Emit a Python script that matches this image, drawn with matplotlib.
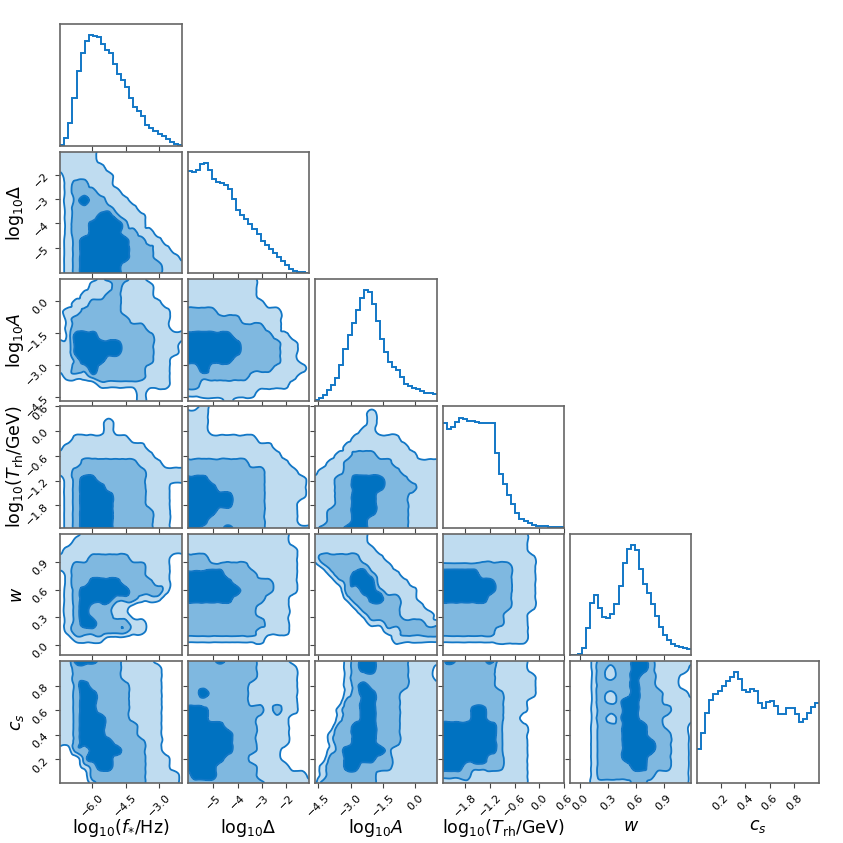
import numpy as np
import matplotlib
matplotlib.use('Agg')
import matplotlib.pyplot as plt
import matplotlib.tri as mtri

# parameter names, plot ranges and ticks
labels = [r'$\mathrm{log}_{10}(f_{*}/\mathrm{Hz})$', r'$\mathrm{log}_{10}\Delta$', r'$\mathrm{log}_{10}A$',
          r'$\mathrm{log}_{10}(T_{\mathrm{rh}}/\mathrm{GeV})$', r'$w$', r'$c_s$']
ranges = [(-7.4, -2.0), (-6.05, -1.05), (-4.65, 1.0), (-2.35, 0.6), (-0.11, 1.2), (0.01, 1.0)]
ticks = [[-6.0, -4.5, -3.0], [-5, -4, -3, -2], [-4.5, -3.0, -1.5, 0.0],
         [-1.8, -1.2, -0.6, 0.0, 0.6], [0.0, 0.3, 0.6, 0.9], [0.2, 0.4, 0.6, 0.8]]
tick_labels = [['−6.0', '−4.5', '−3.0'], ['−5', '−4', '−3', '−2'],
               ['−4.5', '−3.0', '−1.5', '0.0'], ['−1.8', '−1.2', '−0.6', '0.0', '0.6'],
               ['0.0', '0.3', '0.6', '0.9'], ['0.2', '0.4', '0.6', '0.8']]

# 1D marginal histograms, 30 bins over the plot range (relative counts)
hist_fstar = [3, 22, 67, 143, 221, 275, 312, 328, 326, 322, 303, 285, 275, 243, 213,
              196, 175, 143, 116, 103, 88, 63, 53, 43, 35, 28, 20, 10, 5, 2]
hist_delta = [300, 297, 304, 322, 325, 305, 277, 267, 264, 260, 247, 217, 187, 172, 160,
              144, 130, 114, 96, 82, 70, 60, 47, 36, 24, 12, 7, 5, 3, 1]
hist_A = [3, 8, 18, 31, 45, 68, 106, 153, 196, 231, 270, 305, 328, 323, 286,
          236, 183, 145, 116, 101, 92, 70, 50, 44, 38, 33, 28, 24, 22, 21]
hist_trh = [315, 297, 304, 320, 332, 329, 322, 323, 320, 317, 315, 315, 315, 225, 162,
            132, 100, 72, 44, 27, 20, 14, 9, 5, 5, 5, 4, 4, 3, 2]
hist_w = [1, 1, 3, 21, 81, 158, 181, 143, 115, 111, 125, 155, 208, 275, 317,
          330, 315, 258, 213, 185, 153, 118, 85, 61, 45, 33, 27, 24, 22, 18]
hist_cs = [100, 150, 210, 248, 266, 275, 290, 303, 317, 330, 309, 277, 270, 280, 275,
           237, 222, 242, 245, 228, 207, 207, 223, 223, 205, 182, 192, 210, 227, 237]
hists = [hist_fstar, hist_delta, hist_A, hist_trh, hist_w, hist_cs]

# 2D credible regions read on a 16x16 grid (top row first): 0 out, 1 outer, 2 middle, 3 inner
g_delta_fstar = [
    "1111100000000000", "1111100000000000", "1111110000000000", "0111111000000000",
    "0122111000000000", "0122211100000000", "0123221110000000", "0122222111000000",
    "0122233211100000", "0122333321100000", "0122333322110000", "0123333332211000",
    "0123333332221100", "0123333332221110", "0123333322222111", "0123333322222111"]
g_A_fstar = [
    "0000012221100000", "0000111211110000", "0001112211110000", "0011222211111000",
    "0112222211111100", "0122222221111100", "0122222222211100", "0133322222221111",
    "1133333322221110", "1133333322221110", "1123332222221100", "1122322222211100",
    "0111222222211100", "0000011111111100", "0000000000100000", "0000000000100000"]
g_A_delta = [
    "1111111110000000", "1111111110000000", "1111111110000000", "1111111111000000",
    "2222111111110000", "2222222111110000", "2222222222110000", "3333332222211000",
    "3333333222221100", "3333333222221100", "3333332222221100", "2232222222211110",
    "2222222211111100", "2211111111111000", "1111111110000000", "0000010000000000"]
g_trh_fstar = [
    "0000000000000000", "0000000000000000", "0000001000000000", "0000001000000000",
    "0011111110000000", "0111111111100000", "1111111111110000", "1112222222111000",
    "1122222222211111", "0123322222211111", "0123332222211100", "0123333222211100",
    "0123333222211100", "0123333222221100", "0123333222221100", "0123333222221100"]
g_trh_delta = [
    "0010000000000000", "1110000000000000", "1110000000000000", "1110000000000000",
    "1111111110000000", "1111111111100000", "1111111111110000", "2222222211111000",
    "2222222222111100", "3332222222111110", "3333222222111110", "3333332222111110",
    "3333332222111100", "3333222222111100", "3332222222111100", "3322232222111111"]
g_trh_A = [
    "0000000000000000", "0000000100000000", "0000000100000000", "0000001100000000",
    "0000011111100000", "0000111111110000", "0001122211111000", "0011222222111111",
    "0111222222211111", "1112233332221111", "1112233332222111", "1112233322221111",
    "1112233322221111", "1122233322221111", "1122233222221111", "1222333222221111"]
g_w_fstar = [
    "0001111111111111", "0011111111111111", "0111111111111111", "1111222221111100",
    "1122222222211100", "0122222222211100", "0122333322221100", "0123333332222100",
    "0123333222111000", "0123222110000000", "0123222110000000", "0123322221100000",
    "0122222221100000", "0011110000000000", "0000000000000000", "0000000000000000"]
g_w_delta = [
    "1111111111111000", "1111111111111000", "1111111111111100", "2221111111111100",
    "2222222211111100", "3333322221111100", "3333332222211100", "3333333222211100",
    "3333332222111000", "2222222221111000", "2222222221111000", "2222222222111000",
    "2222222221111000", "1111111111000000", "0000000000000000", "0000000000000000"]
g_w_A = [
    "1111111000000000", "1111111000000000", "1111111100000000", "1222221110000000",
    "0122222111000000", "0012233211100000", "0001233311110000", "0000223321111000",
    "0000122332211000", "0000012222211100", "0000001222211110", "0000000112222211",
    "0000000001122222", "0000000000111111", "0000000000000000", "0000000000000000"]
g_w_trh = [
    "1111111111100000", "1111111111100000", "1111111111100000", "1111111111110000",
    "2222222221110000", "3333322221110000", "3333333221110000", "3333333221110000",
    "3333332221110000", "2222222221110000", "2222222211100000", "2222222211100000",
    "2222222111100000", "1111111111100000", "0000000000000000", "0000000000000000"]
g_cs_fstar = [
    "1133322211110000", "1122222211111000", "1122222211111000", "1123222221111000",
    "1123322221111000", "1123322221111000", "1123322221111000", "1123332221111000",
    "1123332222111000", "1123332222111000", "1123333222211000", "0022333322211000",
    "0002333222211100", "0001233222211100", "0000222222211110", "0000122222211110"]
g_cs_delta = [
    "2222322221111000", "2222222221111100", "2222222221111100", "2222222211111100",
    "2232222211111100", "2222222211111100", "3332222222121100", "3332222221111000",
    "3333322221111000", "3333332221111000", "3333332221111000", "3333332221110000",
    "3333322211110000", "3333222221111000", "2333222221111110", "2222222222111111"]
g_cs_A = [
    "0000123322221111", "0000123322221110", "0000122222221110", "0000123222221111",
    "0000123322211111", "0000223322211111", "0001223322211111", "0001223322211111",
    "0002233322211111", "0012233322211111", "0012233322211111", "0012333332111111",
    "0022333322111111", "0122332222111111", "0122222211111111", "0222222211111111"]
g_cs_trh = [
    "2322223111100000", "2222222111100000", "2222222111110000", "2222222111110000",
    "2222222211110000", "2222222211100000", "2222332211100000", "2222332211000000",
    "3333333211100000", "3333333211100000", "3333333211100000", "3333333211100000",
    "3333332211100000", "3332222211100000", "2222111111100000", "1111111111100000"]
g_cs_w = [
    "0001222233211111", "0001212233211110", "0001212232211100", "0001222232211100",
    "0001212232221110", "0001212332221111", "0001222332222111", "0001212332221111",
    "0001222333221110", "0001222333222110", "0001222333322110", "0001222333322110",
    "0001222333222110", "0001222233222110", "0001222222211110", "0001111122111110"]

pairs = {(1, 0): g_delta_fstar, (2, 0): g_A_fstar, (2, 1): g_A_delta,
         (3, 0): g_trh_fstar, (3, 1): g_trh_delta, (3, 2): g_trh_A,
         (4, 0): g_w_fstar, (4, 1): g_w_delta, (4, 2): g_w_A, (4, 3): g_w_trh,
         (5, 0): g_cs_fstar, (5, 1): g_cs_delta, (5, 2): g_cs_A, (5, 3): g_cs_trh,
         (5, 4): g_cs_w}

line_color = '#1277C6'
fill_colors = ['#BFDCF0', '#7FB8E0', '#0072C1']
frame_color = '#666666'

fig = plt.figure(figsize=(8.43, 8.43), dpi=100)
L0, T0, STEP, SIZE, W = 60.3, 24.3, 127.4, 121.5, 843.0


def box(r, c):
    return [(L0 + c * STEP) / W, 1 - (T0 + r * STEP + SIZE) / W, SIZE / W, SIZE / W]


def style(ax, r, c, diag):
    for s in ax.spines.values():
        s.set_color(frame_color)
        s.set_linewidth(1.2)
    ax.tick_params(direction='out', length=3.5, width=0.8, color='#444444', labelsize=8)
    ax.set_xticks(ticks[c])
    if r == 5:
        ax.set_xticklabels(tick_labels[c], rotation=45)
        ax.set_xlabel(labels[c], fontsize=12.5)
        ax.xaxis.set_label_coords(0.5, -0.285)
    else:
        ax.set_xticklabels([])
    if diag:
        ax.set_yticks([])
    else:
        ax.set_yticks(ticks[r])
        if c == 0:
            ax.set_yticklabels(tick_labels[r], rotation=45)
            ax.set_ylabel(labels[r], fontsize=12.5)
            ax.yaxis.set_label_coords(-0.28, 0.5)
        else:
            ax.set_yticklabels([])


for i in range(6):
    for j in range(i + 1):
        ax = fig.add_axes(box(i, j))
        if i == j:
            lo, hi = ranges[i]
            edges = np.linspace(lo, hi, len(hists[i]) + 1)
            ax.stairs(hists[i], edges, baseline=None, color=line_color, lw=1.4)
            ax.set_xlim(lo, hi)
            ax.set_ylim(0, 1.1 * max(hists[i]))
        else:
            z = np.array([[int(ch) for ch in row] for row in pairs[(i, j)]], dtype=float)
            # unit grid coordinates keep the triangulation regular
            ny, nx = z.shape
            gx, gy = np.meshgrid(np.arange(nx), np.arange(ny))
            tri = mtri.Triangulation(gx.ravel(), gy.ravel())
            refiner = mtri.UniformTriRefiner(tri)
            interp = mtri.CubicTriInterpolator(tri, z.ravel(), kind='min_E')
            tri_f, z_f = refiner.refine_field(z.ravel(), triinterpolator=interp, subdiv=3)
            x0, x1 = ranges[j]
            y0, y1 = ranges[i]
            tri_f = mtri.Triangulation(x0 + tri_f.x / (nx - 1) * (x1 - x0),
                                       y1 - tri_f.y / (ny - 1) * (y1 - y0),
                                       tri_f.triangles)
            ax.tricontourf(tri_f, z_f, levels=[0.5, 1.5, 2.5, 99], colors=fill_colors)
            ax.tricontour(tri_f, z_f, levels=[0.5, 1.5, 2.5], colors=line_color,
                          linewidths=1.3)
            ax.set_xlim(x0, x1)
            ax.set_ylim(y0, y1)
        style(ax, i, j, i == j)

fig.savefig('out.png', dpi=100)
